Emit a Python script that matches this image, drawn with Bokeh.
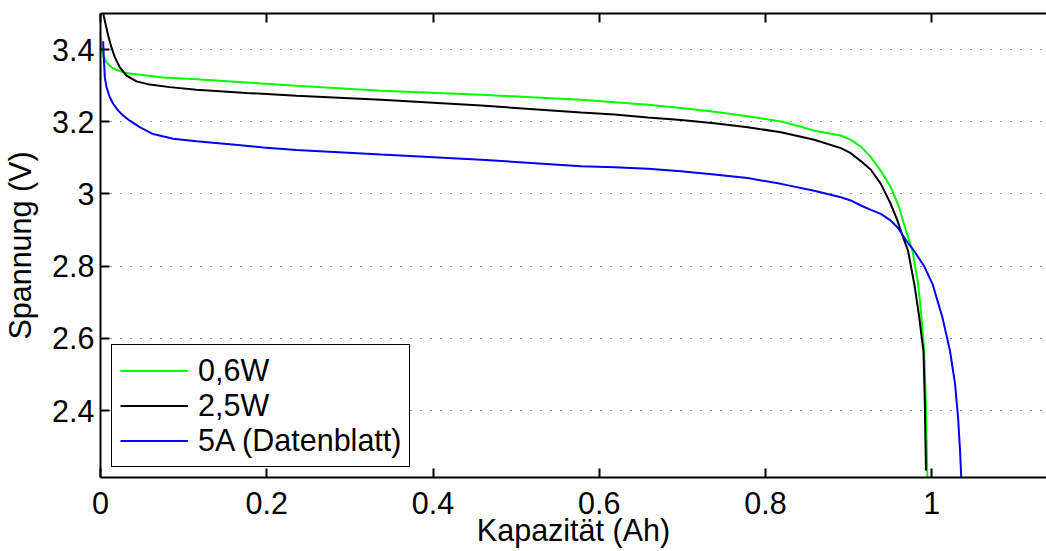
from bokeh.plotting import figure
from bokeh.models import (LinearAxis, FixedTicker, CustomJSTickFormatter, Legend,
                          LegendItem, Range1d)
from bokeh.embed import file_html
from bokeh.resources import INLINE

# ---- data ----
green_label = "0,6W"
green_x = [0.0, 0.0012, 0.0032, 0.0072, 0.0132, 0.0192, 0.0273, 0.0352, 0.0553, 0.0753,
           0.1154, 0.1755, 0.2356, 0.3377, 0.4579, 0.5781, 0.6182, 0.6583, 0.6983, 0.7384,
           0.7785, 0.8185, 0.8386, 0.8586, 0.8906, 0.9026, 0.9147, 0.9267, 0.9387, 0.9507,
           0.9607, 0.9688, 0.9768, 0.9835, 0.9876, 0.9908, 0.9928, 0.9940, 0.9948]
green_y = [3.434, 3.406, 3.383, 3.365, 3.351, 3.344, 3.337, 3.334, 3.328, 3.323,
           3.318, 3.309, 3.300, 3.286, 3.275, 3.261, 3.254, 3.247, 3.238, 3.228,
           3.215, 3.201, 3.189, 3.175, 3.162, 3.150, 3.131, 3.102, 3.064, 3.019,
           2.963, 2.899, 2.843, 2.751, 2.658, 2.566, 2.428, 2.289, 2.200]

black_label = "2,5W"
black_x = [0.0024, 0.0052, 0.0092, 0.0132, 0.0172, 0.0232, 0.0313, 0.0433, 0.0593, 0.0833,
           0.1154, 0.1755, 0.2356, 0.3377, 0.4579, 0.5781, 0.6182, 0.6583, 0.6983, 0.7384,
           0.7785, 0.8185, 0.8586, 0.8906, 0.9026, 0.9147, 0.9267, 0.9387, 0.9507, 0.9587,
           0.9647, 0.9715, 0.9790, 0.9850, 0.9880, 0.9900, 0.9916, 0.9930]
black_y = [3.508, 3.480, 3.439, 3.406, 3.379, 3.351, 3.328, 3.312, 3.303, 3.296,
           3.289, 3.280, 3.272, 3.261, 3.245, 3.226, 3.220, 3.212, 3.205, 3.196,
           3.185, 3.171, 3.150, 3.127, 3.113, 3.091, 3.067, 3.028, 2.972, 2.926,
           2.885, 2.842, 2.750, 2.657, 2.600, 2.564, 2.425, 2.234]

blue_label = "5A (Datenblatt)"
blue_x = [0.0032, 0.0040, 0.0052, 0.0072, 0.0112, 0.0152, 0.0213, 0.0273, 0.0352, 0.0472,
          0.0633, 0.0874, 0.1154, 0.1554, 0.1956, 0.2356, 0.3377, 0.4579, 0.5781, 0.6182,
          0.6583, 0.6983, 0.7384, 0.7785, 0.8185, 0.8586, 0.8906, 0.9026, 0.9147, 0.9267,
          0.9387, 0.9507, 0.9587, 0.9647, 0.9707, 0.9788, 0.9908, 1.0008, 1.0128, 1.0220,
          1.0280, 1.0316, 1.0340, 1.0357]
blue_y = [3.423, 3.379, 3.323, 3.296, 3.268, 3.250, 3.231, 3.217, 3.203, 3.185,
          3.166, 3.153, 3.146, 3.138, 3.129, 3.122, 3.109, 3.095, 3.077, 3.074,
          3.070, 3.063, 3.054, 3.044, 3.028, 3.009, 2.991, 2.982, 2.968, 2.956,
          2.945, 2.926, 2.908, 2.887, 2.866, 2.842, 2.800, 2.751, 2.658, 2.564,
          2.474, 2.381, 2.289, 2.200]

x_ticks = [0, 0.2, 0.4, 0.6, 0.8, 1.0]
x_tick_labels = ["0", "0.2", "0.4", "0.6", "0.8", "1"]
y_ticks = [2.4, 2.6, 2.8, 3.0, 3.2, 3.4]
y_tick_labels = ["2.4", "2.6", "2.8", "3", "3.2", "3.4"]

x_label = "Kapazität (Ah)"
y_label = "Spannung (V)"

FONT = "Liberation Sans"
FS = "30.5px"

p = figure(width=1046, height=551, x_range=Range1d(0, 1.138), y_range=Range1d(2.2144, 3.5),
           output_backend="svg", toolbar_location=None,
           min_border_left=99, min_border_right=0, min_border_top=13, min_border_bottom=74)
p.background_fill_color = "white"
p.border_fill_color = "white"
p.outline_line_color = None

r_g = p.line(green_x, green_y, line_color="#00ff00", line_width=2)
r_k = p.line(black_x, black_y, line_color="#000000", line_width=2)
r_b = p.line(blue_x, blue_y, line_color="#0000ff", line_width=2)

fmt_code = """
const i = tvals.findIndex(t => Math.abs(t - tick) < 1e-9);
return i >= 0 ? tlabels[i] : '';
"""

def style_axis(ax):
    ax.axis_line_color = "black"
    ax.axis_line_width = 2
    ax.major_tick_line_color = "black"
    ax.major_tick_line_width = 2
    ax.major_tick_in = 9
    ax.major_tick_out = 0
    ax.minor_tick_line_color = None
    ax.major_label_text_font = FONT
    ax.major_label_text_font_size = FS
    ax.major_label_text_color = "black"
    ax.axis_label_text_font = FONT
    ax.axis_label_text_font_size = FS
    ax.axis_label_text_font_style = "normal"
    ax.axis_label_text_color = "black"

xa = p.xaxis[0]
xa.ticker = FixedTicker(ticks=x_ticks)
xa.formatter = CustomJSTickFormatter(args=dict(tvals=x_ticks, tlabels=x_tick_labels), code=fmt_code)
style_axis(xa)
xa.axis_label = x_label
xa.major_label_standoff = 14
xa.axis_label_standoff = -4

ya = p.yaxis[0]
ya.ticker = FixedTicker(ticks=y_ticks)
ya.formatter = CustomJSTickFormatter(args=dict(tvals=y_ticks, tlabels=y_tick_labels), code=fmt_code)
style_axis(ya)
ya.axis_label = y_label
ya.major_label_standoff = 6
ya.axis_label_standoff = 12

top = LinearAxis(ticker=FixedTicker(ticks=x_ticks),
                 formatter=CustomJSTickFormatter(code="return '';"))
style_axis(top)
p.add_layout(top, "above")

p.xgrid.grid_line_color = None
p.ygrid.ticker = FixedTicker(ticks=y_ticks)
p.ygrid.grid_line_color = "#333333"
p.ygrid.grid_line_width = 1
p.ygrid.grid_line_dash = "1 9"

legend = Legend(items=[LegendItem(label=green_label, renderers=[r_g]),
                       LegendItem(label=black_label, renderers=[r_k]),
                       LegendItem(label=blue_label, renderers=[r_b])],
                location=(11, 10))
legend.label_text_font = FONT
legend.label_text_font_size = FS
legend.label_text_color = "black"
legend.glyph_width = 68
legend.glyph_height = 35
legend.label_height = 35
legend.label_standoff = 10
legend.spacing = 0
legend.padding = 8
legend.margin = 0
legend.border_line_color = "black"
legend.border_line_alpha = 1
legend.border_line_width = 1.5
legend.background_fill_color = "white"
legend.background_fill_alpha = 1
p.add_layout(legend, "center")

open("out.html", "w").write(file_html(p, INLINE))
